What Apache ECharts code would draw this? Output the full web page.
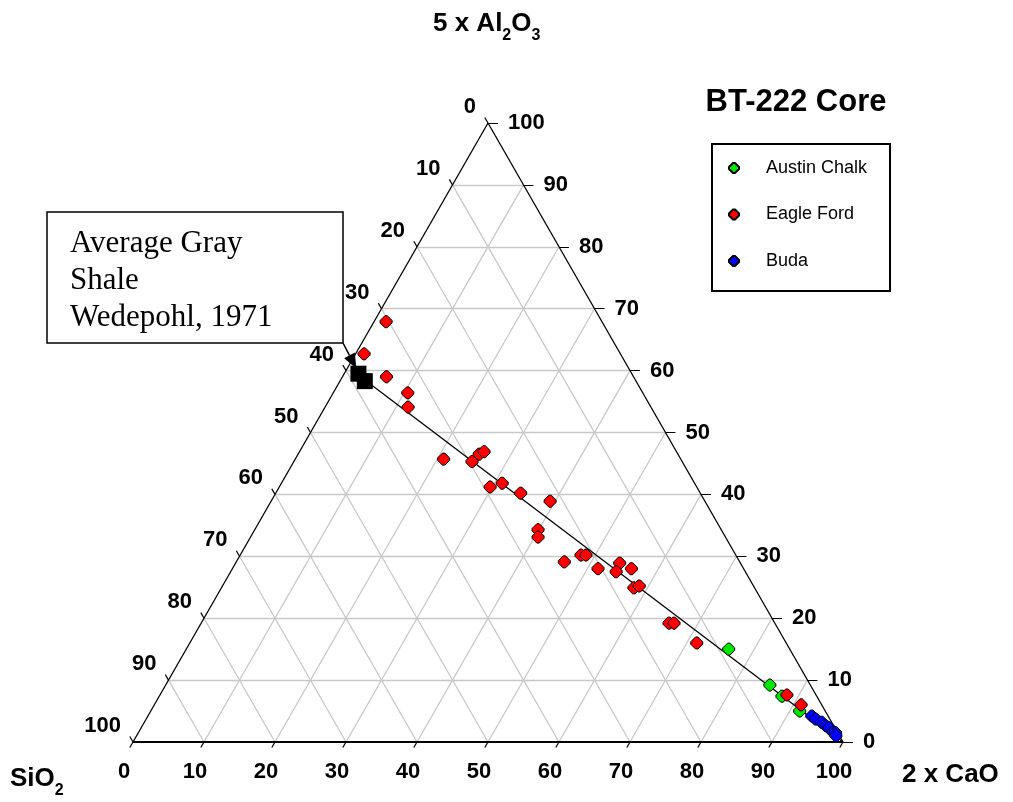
<!DOCTYPE html>
<html>
<head>
<meta charset="utf-8">
<script src="https://cdn.jsdelivr.net/npm/echarts@6/dist/echarts.min.js"></script>
<style>
  html, body { margin: 0; padding: 0; background: #fff; }
  #chart { width: 1013px; height: 802px; }
</style>
</head>
<body>
<div id="chart"></div>
<script>
// Ternary plot SiO2 – 5 x Al2O3 – 2 x CaO, normalised to 100 %.
// Samples are stored as [2 x CaO %, 5 x Al2O3 %]; SiO2 is the remainder.
const ticks = [0, 10, 20, 30, 40, 50, 60, 70, 80, 90, 100];

const austinChalk = [[76.4, 15.0], [85.1, 9.2], [87.7, 7.4], [91.4, 5.0]];

const eagleFord = [
  [1.7, 67.9], [1.2, 62.7], [6.2, 59.0], [10.5, 56.4], [11.7, 54.1],
  [20.9, 45.7], [25.1, 45.3], [25.5, 46.5], [26.0, 46.9], [29.7, 41.2],
  [31.1, 41.8], [34.5, 40.2], [39.3, 38.9], [39.9, 34.3], [40.5, 33.1],
  [46.2, 29.1], [48.0, 30.2], [48.7, 30.2], [51.5, 28.0], [54.1, 28.9],
  [54.3, 27.5], [56.2, 28.0], [58.1, 24.9], [58.7, 25.2], [65.9, 19.2],
  [66.6, 19.2], [71.4, 16.0], [88.3, 7.6], [91.1, 6.0]
];

const buda = [
  [93.5, 4.2], [94.3, 3.7], [95.4, 3.2], [96.3, 2.6],
  [96.9, 2.3], [97.8, 1.6], [98.2, 1.5], [98.5, 1.0]
];

// Average gray shale (Wedepohl, 1971)
const grayShale = [[2.0, 59.5], [3.5, 58.3]];
// Pure carbonate end member (2 x CaO = 100 %)
const carbonateEnd = [100, 0];

// ternary (CaO, Al2O3) -> plane coordinates of the triangle
function tern(c, a) { return [c + a / 2, a]; }
const toPlane = p => tern(p[0], p[1]);

const FONT = '"Liberation Sans", Arial, sans-serif';
const DOT = 'path://M4,0L6,0L10,4L10,6L6,10L4,10L0,6L0,4Z';

// grid lines every 10 %
const gridSegs = [];
ticks.filter(k => k > 0 && k < 100).forEach(k => {
  gridSegs.push({ coords: [tern(0, k), tern(100 - k, k)] });          // constant Al2O3
  gridSegs.push({ coords: [tern(k, 0), tern(k, 100 - k)] });          // constant CaO
  gridSegs.push({ coords: [tern(100 - k, 0), tern(0, 100 - k)] });    // constant SiO2
});

// short tick marks along the three sides
const tickSegs = [];
ticks.forEach(k => {
  const r = tern(100 - k, k);
  tickSegs.push({ coords: [r, [r[0] + 1.4, r[1]]] });
  const b = tern(k, 0);
  tickSegs.push({ coords: [b, tern(k, -0.9)] });
  const l = tern(0, 100 - k);
  tickSegs.push({ coords: [l, tern(-0.9, 100 - k + 0.9)] });
});

const edgeSegs = [
  { coords: [tern(0, 0), tern(100, 0)], lineStyle: { width: 2 } },
  { coords: [tern(100, 0), tern(0, 100)] },
  { coords: [tern(0, 100), tern(0, 0)] }
];

const shaleMean = [
  grayShale.reduce((s, p) => s + p[0], 0) / grayShale.length,
  grayShale.reduce((s, p) => s + p[1], 0) / grayShale.length
];

const numLabel = {
  show: true, position: 'inside', color: '#000', opacity: 1,
  textBorderWidth: 0, textShadowBlur: 0,
  fontFamily: FONT, fontWeight: 'bold', fontSize: 22
};

function labelSeries(data, label) {
  return {
    type: 'scatter', silent: true, symbolSize: 0, z: 5,
    itemStyle: { color: '#fff', opacity: 1 },
    data: data,
    label: Object.assign({}, numLabel, label, { formatter: p => String(p.value[2]) })
  };
}

const chart = echarts.init(document.getElementById('chart'));

const option = {
  animation: false,
  backgroundColor: '#fff',
  grid: { left: 97.5, right: 134.5, top: 92.05, bottom: 29.05 },
  xAxis: { type: 'value', min: -5, max: 105, show: false },
  yAxis: { type: 'value', min: -5, max: 105, show: false },
  legend: {
    data: ['Austin Chalk', 'Eagle Ford', 'Buda'],
    orient: 'vertical', left: 728, top: 158, padding: 0,
    itemWidth: 10, itemHeight: 10, itemGap: 26.5,
    icon: DOT,
    textStyle: { fontFamily: FONT, fontSize: 18, color: '#000', lineHeight: 20, padding: [0, 0, 0, 22] }
  },
  series: [
    { type: 'lines', coordinateSystem: 'cartesian2d', silent: true, z: 1,
      lineStyle: { color: '#c8c8c8', width: 1.3, opacity: 1 }, data: gridSegs },
    { type: 'lines', coordinateSystem: 'cartesian2d', silent: true, z: 2,
      lineStyle: { color: '#000', width: 1.2, opacity: 1 }, data: tickSegs },
    { type: 'lines', coordinateSystem: 'cartesian2d', silent: true, z: 2,
      lineStyle: { color: '#000', width: 1.3, opacity: 1 }, data: edgeSegs },
    { type: 'line', silent: true, z: 3, symbol: 'none',
      lineStyle: { color: '#000', width: 1.3 },
      data: [toPlane(shaleMean), toPlane(carbonateEnd)] },
    { name: 'Austin Chalk', type: 'scatter', z: 4, symbol: DOT, symbolSize: 12,
      itemStyle: { color: '#00e600', borderColor: '#000', borderWidth: 1, opacity: 1 },
      data: austinChalk.map(toPlane) },
    { name: 'Eagle Ford', type: 'scatter', z: 4, symbol: DOT, symbolSize: 12,
      itemStyle: { color: '#ff0000', borderColor: '#000', borderWidth: 1, opacity: 1 },
      data: eagleFord.map(toPlane) },
    { name: 'Buda', type: 'scatter', z: 4, symbol: DOT, symbolSize: 12,
      itemStyle: { color: '#0000ff', borderColor: '#000', borderWidth: 1, opacity: 1 },
      data: buda.map(toPlane) },
    { name: 'Average Gray Shale', type: 'scatter', z: 4, symbol: 'rect', symbolSize: 16,
      itemStyle: { color: '#000', opacity: 1 },
      data: grayShale.map(toPlane) },
    // SiO2 scale on the left side
    labelSeries(ticks.map(s => tern(0, 100 - s).concat(s)), { align: 'right', offset: [-12, -16] }),
    // 5 x Al2O3 scale on the right side
    labelSeries(ticks.map(a => tern(100 - a, a).concat(a)), { align: 'left', offset: [20, 0] }),
    // 2 x CaO scale along the base
    labelSeries(ticks.map(c => tern(c, 0).concat(c)), { align: 'center', offset: [-9, 30] })
  ]
};

chart.setOption(option);

// titles, legend frame and the shale call-out
const sub = { fontFamily: FONT, fontWeight: 'bold', fontSize: 16, lineHeight: 16, padding: [24, 0, 0, 0], fill: '#000' };
const base = { fontFamily: FONT, fontWeight: 'bold', fontSize: 26, lineHeight: 28, fill: '#000' };
const tip = chart.convertToPixel({ gridIndex: 0 }, toPlane(grayShale[0]));
const tipX = tip[0] - 2, tipY = tip[1] - 5;
const fromX = 343, fromY = 343;
const ang = Math.atan2(tipY - fromY, tipX - fromX);
const hl = 15, hw = 6;
const bx = tipX - hl * Math.cos(ang), by = tipY - hl * Math.sin(ang);

chart.setOption({
  graphic: [
    { type: 'text', x: 796, y: 102, z: 10,
      style: { text: 'BT-222 Core', font: 'bold 31px ' + FONT, fill: '#000', align: 'center', verticalAlign: 'middle' } },
    { type: 'text', x: 433, y: 24, z: 10,
      style: { text: '{b|5 x Al}{s|2}{b|O}{s|3}', rich: { b: base, s: sub }, align: 'left', verticalAlign: 'middle' } },
    { type: 'text', x: 10, y: 779, z: 10,
      style: { text: '{b|SiO}{s|2}', rich: { b: base, s: sub }, align: 'left', verticalAlign: 'middle' } },
    { type: 'text', x: 902, y: 775, z: 10,
      style: { text: '{b|2 x CaO}', rich: { b: base }, align: 'left', verticalAlign: 'middle' } },
    { type: 'rect', z: 10, shape: { x: 712, y: 144, width: 178, height: 147 },
      style: { fill: 'none', stroke: '#000', lineWidth: 2 } },
    { type: 'rect', z: 10, shape: { x: 47, y: 212, width: 296, height: 131 },
      style: { fill: '#fff', stroke: '#000', lineWidth: 1.5 } },
    { type: 'text', x: 70, y: 225, z: 11,
      style: { text: 'Average Gray\nShale\nWedepohl, 1971', font: '31px "Liberation Serif", "Times New Roman", serif',
               lineHeight: 37, fill: '#000', align: 'left', verticalAlign: 'top' } },
    { type: 'polyline', z: 11, shape: { points: [[fromX, fromY], [bx, by]] },
      style: { stroke: '#000', lineWidth: 1.5, fill: 'none' } },
    { type: 'polygon', z: 11,
      shape: { points: [
        [tipX, tipY],
        [bx + hw * Math.sin(ang), by - hw * Math.cos(ang)],
        [bx - hw * Math.sin(ang), by + hw * Math.cos(ang)]
      ] },
      style: { fill: '#000' } }
  ]
});
</script>
</body>
</html>
